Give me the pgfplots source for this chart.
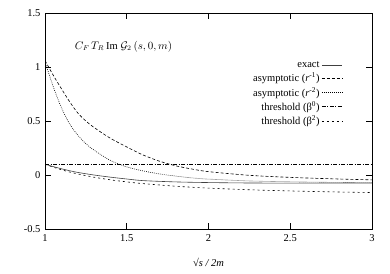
\documentclass[border=0pt]{standalone}
\usepackage{fontspec}
\setmainfont{Liberation Serif}
\usepackage{pgfplots}
\pgfplotsset{compat=1.18}
\begin{document}
\begin{tikzpicture}
\begin{axis}[
  scale only axis, width=327pt, height=216pt,
  xmin=1, xmax=3, ymin=-0.5, ymax=1.5,
  xtick={1,1.5,2,2.5,3}, ytick={-0.5,0,0.5,1,1.5},
  xticklabels={1,1.5,2,2.5,3}, yticklabels={-0.5,0,0.5,1,1.5},
  tick align=inside, major tick length=6pt,
  tick style={black, line width=0.8pt},
  axis line style={line width=0.9pt},
  ticklabel style={font=\fontsize{10.5}{12}\selectfont},
  xticklabel style={yshift=-2pt},
  yticklabel style={xshift=-1pt},
  xlabel={\textit{√s / 2m}},
  xlabel style={at={(axis description cs:0.5,-0.12)}, anchor=north, font=\fontsize{10.5}{12}\selectfont},
  legend style={draw=none, fill=none, at={(0.92,0.795)}, anchor=north east,
     font=\fontsize{10.5}{12}\selectfont, row sep=0pt, cells={anchor=east}},
  legend plot pos=right,
  legend image post style={xscale=1.2},
  every axis plot/.append style={line width=0.6pt},
]
\addplot[black!75, smooth] coordinates {
(1.00,0.100) (1.05,0.078) (1.10,0.058) (1.15,0.040) (1.20,0.024) (1.30,0.000)
(1.40,-0.020) (1.50,-0.037) (1.60,-0.052) (1.80,-0.064) (2.00,-0.070)
(2.25,-0.074) (2.50,-0.075) (2.75,-0.075) (3.00,-0.075)};
\addlegendentry{exact}
\addplot[black, smooth, dash pattern=on 3pt off 2pt] coordinates {
(1.00,1.06) (1.05,0.925) (1.10,0.80) (1.15,0.68) (1.20,0.575) (1.25,0.50)
(1.30,0.44) (1.40,0.340) (1.50,0.26) (1.60,0.185) (1.70,0.128) (1.80,0.085)
(1.90,0.055) (2.00,0.031) (2.25,-0.003) (2.50,-0.022) (2.75,-0.035) (3.00,-0.045)};
\addlegendentry{asymptotic (\textit{r}\textsuperscript{-1})}
\addplot[black, smooth, dash pattern=on 0.8pt off 1.2pt] coordinates {
(1.00,1.05) (1.05,0.82) (1.10,0.625) (1.15,0.475) (1.20,0.37) (1.25,0.29)
(1.30,0.23) (1.40,0.135) (1.50,0.075) (1.60,0.038) (1.70,0.010) (1.80,-0.010)
(1.90,-0.027) (2.00,-0.038) (2.25,-0.055) (2.50,-0.063) (2.75,-0.068) (3.00,-0.071)};
\addlegendentry{asymptotic (\textit{r}\textsuperscript{-2})}
\addplot[black, dash pattern=on 4pt off 1.5pt on 1pt off 1.5pt] coordinates {
(1.00,0.1) (3.00,0.1)};
\addlegendentry{threshold (β\textsuperscript{0})}
\addplot[black, smooth, dash pattern=on 2pt off 3pt] coordinates {
(1.00,0.100) (1.05,0.0726) (1.10,0.0488) (1.15,0.0280) (1.20,0.0098) (1.30,-0.0204)
(1.40,-0.0445) (1.50,-0.0639) (1.60,-0.0798) (1.80,-0.1040) (2.00,-0.1213)
(2.25,-0.1367) (2.50,-0.1478) (2.75,-0.1560) (3.00,-0.1622)};
\addlegendentry{threshold (β\textsuperscript{2})}
\node[font=\fontsize{10.5}{12}\selectfont] at (axis cs:1.48,1.19) {$C_F\,T_R\,\mathrm{Im}\;\mathcal{G}_2\,(s,0,m)$};
\end{axis}
\pgfresetboundingbox
\path (current axis.south west) ++(-45pt,-44pt) coordinate (bl);
\path (current axis.north east) ++(18pt,13pt) coordinate (tr);
\useasboundingbox (bl) rectangle (tr);
\end{tikzpicture}
\end{document}
